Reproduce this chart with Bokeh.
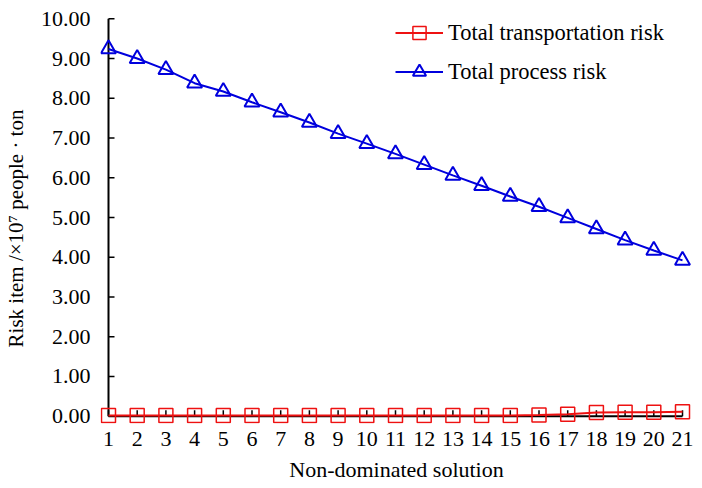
import math
from bokeh.plotting import figure
from bokeh.models import (Range1d, FixedTicker, PrintfTickFormatter, Legend, LegendItem)
from bokeh.embed import file_html
from bokeh.resources import INLINE

# ---- data ----
solutions = [1, 2, 3, 4, 5, 6, 7, 8, 9, 10, 11, 12, 13, 14, 15, 16, 17, 18, 19, 20, 21]
transport_risk = [0.02, 0.02, 0.02, 0.02, 0.02, 0.02, 0.02, 0.02, 0.02, 0.02, 0.02,
                  0.02, 0.02, 0.02, 0.02, 0.03, 0.05, 0.09, 0.10, 0.10, 0.11]
process_risk = [9.24, 9.00, 8.72, 8.38, 8.17, 7.90, 7.65, 7.39, 7.11, 6.86, 6.60,
                6.33, 6.06, 5.80, 5.53, 5.27, 4.99, 4.71, 4.43, 4.17, 3.92]
y_ticks = [0, 1, 2, 3, 4, 5, 6, 7, 8, 9, 10]
series_names = ["Total transportation risk", "Total process risk"]
x_title = "Non-dominated solution"
y_title = "Risk item /\u00d710\u2077 people \u00b7 ton\u2002\u2002"

FONT = "Liberation Serif"
RED = "#EE1111"
BLUE = "#0000DD"

p = figure(width=702, height=488,
           x_range=Range1d(0.7213, 21.3484), y_range=Range1d(-0.184, 10.159),
           output_backend="svg", toolbar_location=None,
           min_border_left=100, min_border_right=10, min_border_top=12, min_border_bottom=65)
p.outline_line_color = None
p.xgrid.visible = False
p.ygrid.visible = False
p.background_fill_color = "white"

# axes (labels only; lines & ticks drawn at x=1 / y=0 below)
p.xaxis.ticker = FixedTicker(ticks=solutions)
p.yaxis.ticker = FixedTicker(ticks=y_ticks)
p.yaxis.formatter = PrintfTickFormatter(format="%.2f")
for ax in (p.xaxis[0], p.yaxis[0]):
    ax.axis_line_color = None
    ax.major_tick_line_color = None
    ax.minor_tick_line_color = None
    ax.major_tick_in = 0
    ax.major_tick_out = 0
    ax.major_label_text_font = FONT
    ax.major_label_text_font_size = "22px"
    ax.major_label_text_color = "black"
    ax.axis_label_text_font = FONT
    ax.axis_label_text_font_style = "normal"
    ax.axis_label_text_color = "black"
p.xaxis.axis_label = x_title
p.xaxis.axis_label_text_font_size = "22px"
p.xaxis.major_label_standoff = 8
p.xaxis.axis_label_standoff = 8
p.yaxis.axis_label = y_title
p.yaxis.axis_label_text_font_size = "21px"
p.yaxis.major_label_standoff = 10
p.yaxis.axis_label_standoff = 10

# axis lines at x = first solution, y = 0
p.segment(x0=[solutions[0], solutions[0]], y0=[y_ticks[0], y_ticks[0]],
          x1=[solutions[0], solutions[-1]], y1=[y_ticks[-1], y_ticks[0]],
          line_color="black", line_width=2)
# inward tick marks
p.ray(x=[solutions[0]] * len(y_ticks), y=y_ticks, length=6, length_units="screen",
      angle=0, line_color="black", line_width=1.5)
p.ray(x=solutions, y=[y_ticks[0]] * len(solutions), length=6, length_units="screen",
      angle=math.pi / 2, line_color="black", line_width=1.5)

# series
r_line = p.line(solutions, transport_risk, line_color=RED, line_width=2)
r_mark = p.scatter(solutions, transport_risk, marker="square", size=14,
                   line_color=RED, line_width=1.5, fill_color=None)
b_line = p.line(solutions, process_risk, line_color=BLUE, line_width=2)
b_mark = p.scatter(solutions, process_risk, marker="triangle", size=15,
                   line_color=BLUE, line_width=2, fill_color=None)

legend = Legend(items=[LegendItem(label=series_names[0], renderers=[r_line, r_mark]),
                       LegendItem(label=series_names[1], renderers=[b_line, b_mark])],
                location=(291, 331), padding=4, spacing=6,
                glyph_width=48, glyph_height=33, label_height=33, label_standoff=5,
                label_text_font=FONT, label_text_font_size="22.5px",
                label_text_color="black",
                border_line_alpha=0, background_fill_alpha=0)
p.add_layout(legend)

open("out.html", "w").write(file_html(p, INLINE))
